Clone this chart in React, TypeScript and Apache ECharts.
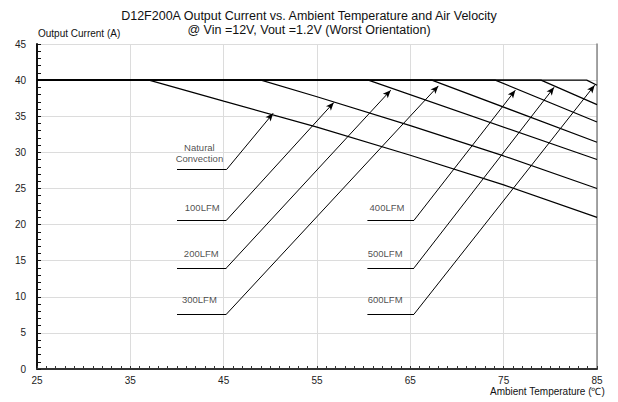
import React, { useEffect, useRef } from "react";
import * as echarts from "echarts";

// Derating curves: [ambient temperature (°C), output current (A)]
const naturalConvection = [[25, 40], [37, 40], [45, 37.1], [55, 33.5], [65, 29.6], [75, 25.5], [85, 21]];
const lfm100 = [[25, 40], [49, 40], [55, 37.7], [65, 33.7], [75, 29.5], [85, 25]];
const lfm200 = [[25, 40], [60.5, 40], [85, 29]];
const lfm300 = [[25, 40], [67.3, 40], [85, 31.4]];
const lfm400 = [[25, 40], [74.1, 40], [85, 34.2]];
const lfm500 = [[25, 40], [79, 40], [85, 36.6]];
const lfm600 = [[25, 40], [83.9, 40], [85, 39.3]];
const curves = [naturalConvection, lfm100, lfm200, lfm300, lfm400, lfm500, lfm600];

// Annotation callouts
const calloutNames = ["Natural\nConvection", "100LFM", "200LFM", "300LFM", "400LFM", "500LFM", "600LFM"];
const calloutText = [[42.4, 29.9], [42.7, 22.4], [42.6, 16.05], [42.4, 9.6], [62.5, 22.4], [62.3, 16.05], [62.3, 9.6]];
const leaderStart = [[40, 27.6], [40, 20.6], [40, 14], [40, 7.6], [60.4, 20.6], [60.4, 14], [60.4, 7.6]];
const leaderEnd = [[45.3, 27.6], [45.3, 20.6], [45.3, 14], [45.3, 7.6], [65.4, 20.6], [65.4, 14], [65.4, 7.6]];
const arrowTip = [[50.3, 35.4], [56.8, 36.9], [62.9, 38.6], [68.0, 39.2], [76.25, 38.6], [80.4, 39.0], [84.75, 39.3]];

const FONT = "'Liberation Sans', Arial, Helvetica, sans-serif";

export default function App() {
  const ref = useRef<HTMLDivElement>(null);
  useEffect(() => {
    document.body.style.margin = "0";
    const chart = echarts.init(ref.current!, null, { renderer: "svg" });

    const markData: any[] = [];
    for (let i = 0; i < leaderStart.length; i++) {
      markData.push([
        { coord: leaderStart[i], symbol: "none" },
        { coord: leaderEnd[i], symbol: "none" },
      ]);
      markData.push([
        { coord: leaderEnd[i], symbol: "none" },
        { coord: arrowTip[i], symbol: "arrow", symbolSize: [5, 8] },
      ]);
    }

    const series: any[] = curves.map((c) => ({
      type: "line",
      data: c,
      symbol: "none",
      silent: true,
      lineStyle: { color: "#000", width: 1.2 },
      z: 3,
    }));

    series.push({
      type: "line",
      data: [],
      silent: true,
      markLine: {
        silent: true,
        animation: false,
        symbol: ["none", "none"],
        label: { show: false },
        lineStyle: { color: "#000", width: 1, type: "solid" },
        emphasis: { disabled: true },
        data: markData,
      },
    });

    series.push({
      type: "scatter",
      silent: true,
      symbolSize: 1,
      itemStyle: { color: "rgba(0,0,0,0)" },
      data: calloutNames.map((n, i) => ({ name: n, value: calloutText[i] })),
      label: {
        show: true,
        position: "inside",
        formatter: "{b}",
        color: "#222",
        fontSize: 9.5,
        lineHeight: 11,
        fontFamily: FONT,
      },
    });

    chart.setOption({
      animation: false,
      backgroundColor: "#fff",
      title: {
        text: "D12F200A Output Current vs. Ambient Temperature and Air Velocity\n@ Vin =12V, Vout =1.2V (Worst Orientation)",
        left: "center",
        top: 4,
        textStyle: { fontSize: 12.5, fontWeight: "normal", color: "#111", lineHeight: 14, fontFamily: FONT },
      },
      grid: { left: 37, right: 21, top: 44, bottom: 33, outerBoundsMode: "none" },
      xAxis: {
        type: "value",
        min: 25,
        max: 85,
        interval: 10,
        axisLine: { show: true, onZero: false, lineStyle: { color: "#333", width: 2 } },
        axisTick: { show: true, inside: true, length: 3, lineStyle: { color: "#333" } },
        minorTick: { show: true, splitNumber: 10, length: 3, lineStyle: { color: "#333" } },
        axisLabel: { color: "#222", fontSize: 10, margin: 6, fontFamily: FONT },
        splitLine: { show: true, lineStyle: { color: "#dcdcdc", width: 1 } },
      },
      yAxis: [
        {
          type: "value",
          min: 0,
          max: 45,
          interval: 5,
          name: "Output Current (A)",
          nameLocation: "end",
          nameGap: 11,
          nameTextStyle: { align: "left", verticalAlign: "middle", color: "#111", fontSize: 10, fontFamily: FONT, padding: [0, 0, 0, 1] },
          axisLine: { show: true, onZero: false, lineStyle: { color: "#111", width: 2 } },
          axisTick: { show: true, inside: true, length: 4, lineStyle: { color: "#111" } },
          minorTick: { show: true, splitNumber: 5, length: 4, lineStyle: { color: "#111" } },
          axisLabel: { color: "#222", fontSize: 10, margin: 11, fontFamily: FONT },
          splitLine: { show: true, lineStyle: { color: "#dcdcdc", width: 1 } },
        },
        {
          type: "value",
          min: 0,
          max: 45,
          interval: 5,
          position: "right",
          axisLine: { show: true, lineStyle: { color: "#888", width: 1.5 } },
          axisTick: { show: false },
          axisLabel: { show: false },
          splitLine: { show: false },
        },
      ],
      graphic: [
        {
          type: "text",
          right: 13,
          top: 386,
          style: { text: "Ambient Temperature (℃)", fill: "#111", fontSize: 10, fontFamily: FONT },
        },
      ],
      series,
    });
    return () => chart.dispose();
  }, []);
  return <div ref={ref} style={{ position: "fixed", left: 0, top: 0, width: 618, height: 402 }} />;
}
